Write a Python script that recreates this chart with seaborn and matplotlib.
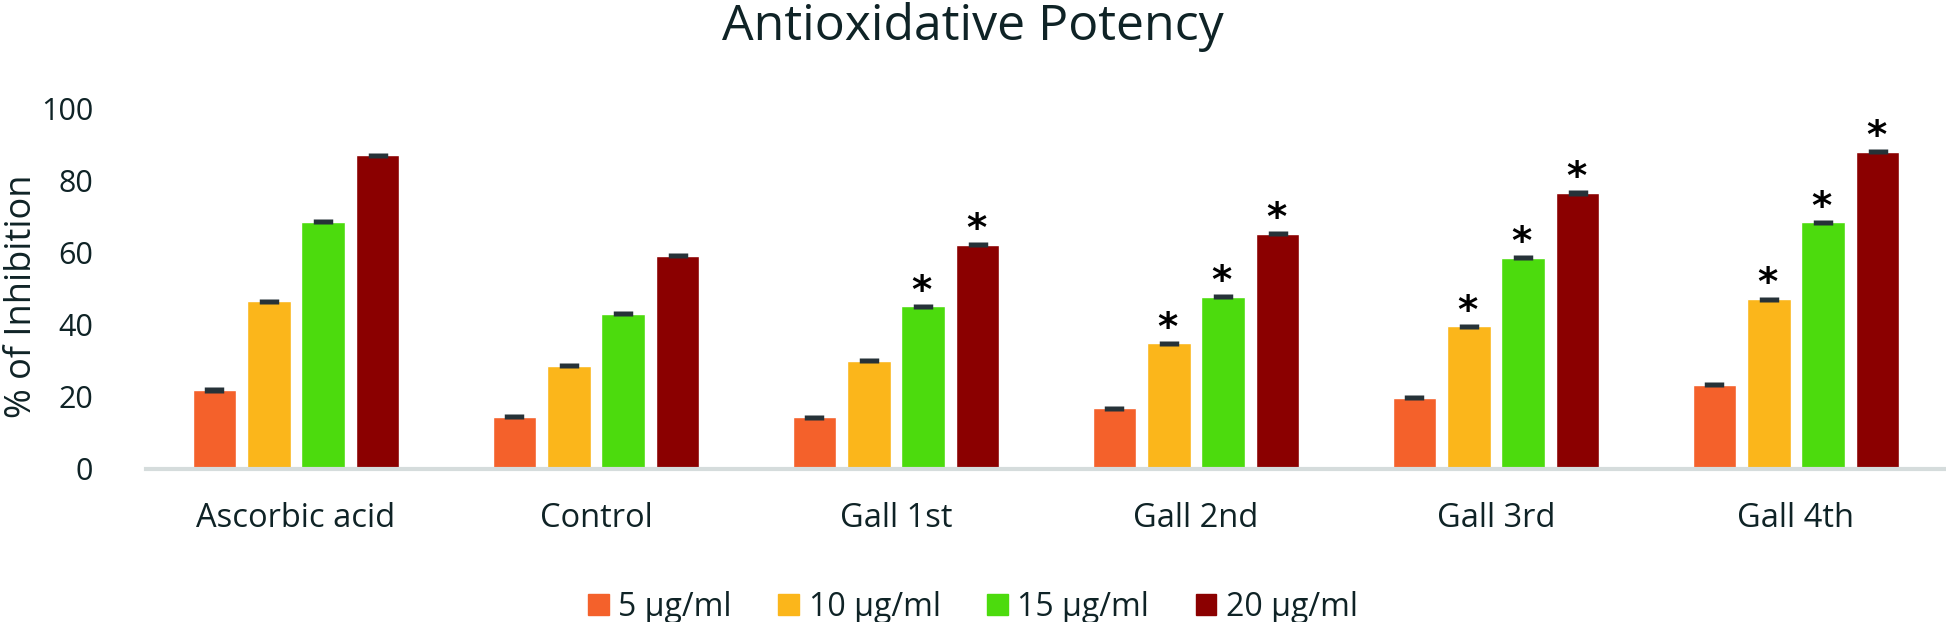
import matplotlib
matplotlib.use("Agg")
import matplotlib.pyplot as plt
import seaborn as sns
import pandas as pd
import numpy as np

# ---- data ----
categories = ["Ascorbic acid", "Control", "Gall 1st", "Gall 2nd", "Gall 3rd", "Gall 4th"]
concentrations = ["5 μg/ml", "10 μg/ml", "15 μg/ml", "20 μg/ml"]
vals_5 = [21.9, 14.5, 14.4, 16.8, 19.7, 23.4]
vals_10 = [46.5, 28.6, 30.0, 34.8, 39.5, 47.1]
vals_15 = [68.6, 43.1, 45.1, 47.7, 58.5, 68.4]
vals_20 = [86.9, 59.1, 62.1, 65.2, 76.5, 87.9]
err_5 = [0.7, 0.7, 0.7, 0.7, 0.7, 0.7]
err_10 = [0.7, 0.7, 0.7, 0.7, 0.7, 0.7]
err_15 = [0.7, 0.7, 0.7, 0.7, 0.7, 0.7]
err_20 = [0.7, 0.7, 0.7, 0.7, 0.7, 0.7]
sig_5 = [False, False, False, False, False, False]
sig_10 = [False, False, False, True, True, True]
sig_15 = [False, False, True, True, True, True]
sig_20 = [False, False, True, True, True, True]
colors = ["#F4612B", "#FBB61B", "#4CDB0D", "#8B0000"]
yticks = [0, 20, 40, 60, 80, 100]

TEXT = "#0F2326"

sns.set_theme(style="white")
plt.rcParams["font.family"] = ["Open Sans", "DejaVu Sans"]

rows = []
for conc, vals, errs, sigs in zip(concentrations,
                                  [vals_5, vals_10, vals_15, vals_20],
                                  [err_5, err_10, err_15, err_20],
                                  [sig_5, sig_10, sig_15, sig_20]):
    for c, v, e, s in zip(categories, vals, errs, sigs):
        rows.append({"Sample": c, "Conc": conc, "Value": v, "Err": e, "Sig": s})
df = pd.DataFrame(rows)

fig = plt.figure(figsize=(19.46, 6.22), dpi=100)
ax = fig.add_axes([0.075, 0.246, 0.925, 0.58])

sns.barplot(data=df, x="Sample", y="Value", hue="Conc", order=categories,
            hue_order=concentrations, palette=colors, width=0.725, gap=0.2,
            errorbar=None, saturation=1, ax=ax, legend=True)

# error bars and significance stars, matched to bar containers
for container, conc in zip(ax.containers, concentrations):
    sub = df[df["Conc"] == conc].set_index("Sample").loc[categories]
    xs = [p.get_x() + p.get_width() / 2 for p in container.patches]
    ax.errorbar(xs, sub["Value"].values, yerr=sub["Err"].values, fmt="none",
                ecolor="#263238", elinewidth=14, capsize=0, zorder=5)
    for x, v, s in zip(xs, sub["Value"].values, sub["Sig"].values):
        if s:
            ax.annotate("*", xy=(x, v), xytext=(-1, 10.5), textcoords="offset points",
                        ha="center", va="center", fontsize=28, fontweight="bold",
                        color="black", family="DejaVu Sans", annotation_clip=False)

ax.set_xlim(-0.5, 5.5)
ax.set_ylim(0, 100)
ax.set_yticks(yticks)
ax.set_yticklabels([str(t) for t in yticks], fontsize=22, color=TEXT)
ax.tick_params(axis="x", labelsize=23.5, colors=TEXT, length=0, pad=24)
ax.tick_params(axis="y", length=0, pad=38)
for lab in ax.get_xticklabels():
    lab.set_color(TEXT)
ax.set_xlabel("")
ax.set_ylabel("% of Inhibition", fontsize=26, color=TEXT)
ax.yaxis.set_label_coords(-0.059, 0.48)

for side in ["top", "right", "left"]:
    ax.spines[side].set_visible(False)
ax.spines["bottom"].set_color("#D5DCDC")
ax.spines["bottom"].set_linewidth(3)
ax.grid(False)

ax.legend_.remove()
handles = [plt.Rectangle((0, 0), 1, 1, color=c) for c in colors]
fig.legend(handles, concentrations, loc="center", bbox_to_anchor=(0.5, 0.024),
           ncol=4, frameon=False, fontsize=23, handlelength=0.65, handleheight=0.65,
           handletextpad=0.3, columnspacing=1.45, labelcolor=TEXT)

fig.suptitle("Antioxidative Potency", fontsize=36, color=TEXT, y=0.996, va="top")

fig.savefig("out.png", dpi=100)
